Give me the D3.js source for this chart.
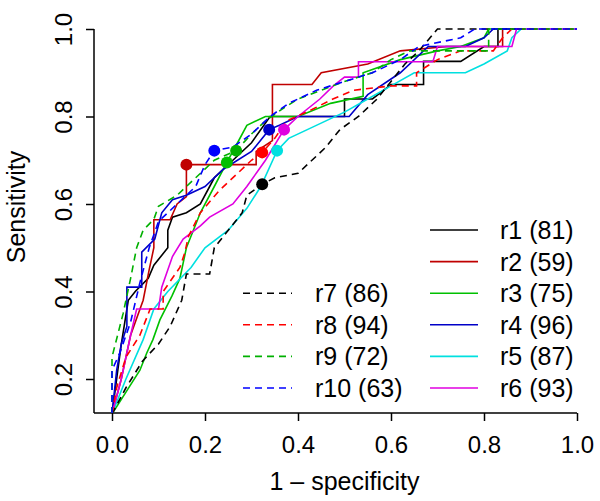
<!DOCTYPE html>
<html><head><meta charset="utf-8">
<script src="https://cdn.jsdelivr.net/npm/d3@7"></script>
<style>body{margin:0;background:#fff}svg{display:block;font-family:"Liberation Sans",Arial,sans-serif}</style>
</head><body>
<svg id="c" width="600" height="501"></svg>
<script>
const seriesNames = ["r1","r2","r3","r4","r5","r6","r7","r8","r9","r10"];
const seriesCounts = [81,59,75,96,87,93,86,94,72,63];
const seriesColors = ["#000000","#c00000","#00c000","#0000c8","#00e0e0","#e000e0","#000000","#ff0000","#00b000","#0000ff"];
const seriesDashed = [false,false,false,false,false,false,true,true,true,true];

const r1 = [[0,0.12],[0.01,0.2],[0.02,0.28],[0.035,0.38],[0.05,0.4],[0.078,0.43],[0.09,0.46],[0.12,0.5],[0.12,0.54],[0.13,0.57],[0.16,0.58],[0.19,0.6],[0.21,0.64],[0.22,0.66],[0.26,0.7],[0.3,0.74],[0.34,0.8],[0.5,0.8],[0.5,0.84],[0.56,0.84],[0.6,0.873],[0.67,0.873],[0.67,0.926],[0.75,0.926],[0.8,0.96],[0.83,0.96],[0.83,1.0],[1,1]];
const r2 = [[0,0.12],[0.02,0.2],[0.04,0.3],[0.067,0.38],[0.08,0.45],[0.09,0.5],[0.09,0.564],[0.125,0.564],[0.14,0.6],[0.16,0.617],[0.16,0.69],[0.31,0.69],[0.31,0.72],[0.345,0.745],[0.345,0.873],[0.43,0.873],[0.45,0.9],[0.55,0.92],[0.62,0.95],[0.72,0.96],[0.84,0.96],[0.84,1.0],[1,1]];
const r3 = [[0,0.12],[0.03,0.17],[0.06,0.22],[0.075,0.26],[0.088,0.29],[0.103,0.335],[0.129,0.39],[0.146,0.43],[0.16,0.5],[0.175,0.54],[0.19,0.58],[0.22,0.64],[0.247,0.695],[0.27,0.74],[0.29,0.78],[0.33,0.8],[0.4,0.8],[0.47,0.83],[0.54,0.846],[0.54,0.9],[0.62,0.93],[0.7,0.95],[0.75,0.96],[0.8,0.98],[0.81,1.0],[1,1]];
const r4 = [[0,0.12],[0.01,0.22],[0.02,0.28],[0.032,0.32],[0.032,0.41],[0.064,0.41],[0.064,0.49],[0.092,0.52],[0.107,0.58],[0.13,0.61],[0.16,0.62],[0.2,0.64],[0.24,0.68],[0.3,0.72],[0.338,0.77],[0.36,0.78],[0.4,0.8],[0.51,0.8],[0.55,0.85],[0.62,0.9],[0.68,0.96],[0.76,0.96],[0.8,0.98],[0.82,1.0],[1,1]];
const r5 = [[0,0.12],[0.03,0.2],[0.067,0.29],[0.09,0.36],[0.12,0.4],[0.17,0.455],[0.2,0.5],[0.25,0.54],[0.29,0.59],[0.32,0.64],[0.355,0.722],[0.38,0.75],[0.42,0.77],[0.46,0.79],[0.5,0.81],[0.55,0.84],[0.6,0.87],[0.65,0.9],[0.76,0.9],[0.8,0.92],[0.85,0.95],[0.86,0.98],[0.88,1.0],[1,1]];
const r6 = [[0,0.12],[0.02,0.2],[0.04,0.3],[0.053,0.36],[0.1,0.36],[0.107,0.41],[0.13,0.48],[0.153,0.52],[0.19,0.55],[0.21,0.57],[0.26,0.6],[0.29,0.64],[0.33,0.7],[0.37,0.77],[0.4,0.8],[0.447,0.84],[0.476,0.87],[0.5,0.89],[0.53,0.89],[0.53,0.925],[0.69,0.925],[0.7,0.96],[0.86,0.96],[0.87,1.0],[1,1]];
const r7 = [[0,0.12],[0.03,0.18],[0.065,0.24],[0.1,0.28],[0.125,0.32],[0.15,0.38],[0.16,0.44],[0.21,0.44],[0.22,0.5],[0.25,0.54],[0.28,0.58],[0.29,0.62],[0.323,0.645],[0.35,0.66],[0.4,0.67],[0.43,0.7],[0.46,0.73],[0.49,0.77],[0.53,0.8],[0.57,0.84],[0.6,0.88],[0.63,0.92],[0.66,0.95],[0.7,1.0],[1,1]];
const r8 = [[0,0.12],[0.01,0.18],[0.03,0.25],[0.06,0.3],[0.082,0.36],[0.11,0.36],[0.11,0.4],[0.146,0.455],[0.157,0.49],[0.164,0.525],[0.19,0.58],[0.23,0.63],[0.27,0.67],[0.3,0.7],[0.323,0.718],[0.35,0.75],[0.376,0.79],[0.43,0.816],[0.475,0.84],[0.52,0.86],[0.6,0.87],[0.655,0.87],[0.655,0.9],[0.7,0.93],[0.75,0.95],[0.82,0.95],[0.84,0.98],[0.86,1.0],[1,1]];
const r9 = [[0,0.12],[0,0.25],[0.024,0.35],[0.04,0.43],[0.053,0.5],[0.067,0.54],[0.09,0.565],[0.1,0.595],[0.14,0.62],[0.18,0.66],[0.22,0.7],[0.267,0.722],[0.3,0.76],[0.33,0.79],[0.37,0.82],[0.4,0.84],[0.45,0.86],[0.5,0.88],[0.56,0.9],[0.6,0.93],[0.64,0.95],[0.81,0.95],[0.81,1.0],[1,1]];
const r10 = [[0,0.12],[0,0.22],[0.017,0.26],[0.04,0.33],[0.06,0.42],[0.08,0.5],[0.1,0.56],[0.14,0.6],[0.18,0.64],[0.2,0.69],[0.22,0.722],[0.26,0.73],[0.3,0.76],[0.34,0.8],[0.38,0.83],[0.44,0.86],[0.5,0.88],[0.56,0.9],[0.62,0.93],[0.66,0.96],[0.75,0.98],[0.78,1.0],[1,1]];
const curves = [r1,r2,r3,r4,r5,r6,r7,r8,r9,r10];

// optimal points (index into series, fpr, tpr)
const markerSeries = [1,7,9,8,2,3,5,4,6];
const markerX = [0.16,0.323,0.22,0.267,0.247,0.338,0.37,0.355,0.323];
const markerY = [0.69,0.718,0.722,0.722,0.695,0.77,0.77,0.722,0.645];

const xTicks = [0,0.2,0.4,0.6,0.8,1.0];
const yTicks = [0.2,0.4,0.6,0.8,1.0];

const svg = d3.select("#c");
const x = d3.scaleLinear().domain([0,1]).range([112,577]);
const y = d3.scaleLinear().domain([0.2,1]).range([379,29]);
const yMin = y.invert(413), xMin = x.invert(94);

svg.append("defs").append("clipPath").attr("id","clip").append("rect")
  .attr("x",x(xMin)).attr("y",y(1)-2).attr("width",x(1.04)-x(xMin)).attr("height",y(yMin)-y(1)+2);

// axes
const xa = svg.append("g").attr("transform",`translate(0,${y(yMin)})`)
  .call(d3.axisBottom(x).tickValues(xTicks).tickFormat(d3.format(".1f")).tickSize(8).tickSizeOuter(0));
xa.select(".domain").remove();
xa.selectAll("line").attr("stroke","#000").attr("stroke-width",1.5);
xa.selectAll("text").attr("y",40).attr("dy",0).attr("font-size",24).attr("fill","#000");

const ya = svg.append("g").attr("transform",`translate(${x(xMin)},0)`)
  .call(d3.axisLeft(y).tickValues(yTicks).tickFormat(d3.format(".1f")).tickSize(8).tickSizeOuter(0));
ya.select(".domain").remove();
ya.selectAll("line").attr("stroke","#000").attr("stroke-width",1.5);
ya.selectAll("text").attr("x",0).attr("dy",0).attr("transform","translate(-22,0) rotate(-90)")
  .attr("text-anchor","middle").attr("font-size",24).attr("fill","#000");

svg.append("line").attr("x1",x(xMin)).attr("x2",x(1)).attr("y1",y(yMin)).attr("y2",y(yMin)).attr("stroke","#000").attr("stroke-width",1.5);
svg.append("line").attr("x1",x(xMin)).attr("x2",x(xMin)).attr("y1",y(1)).attr("y2",y(yMin)).attr("stroke","#000").attr("stroke-width",1.5);

svg.append("text").attr("x",(x(0)+x(1))/2).attr("y",490).attr("text-anchor","middle").attr("font-size",25).text("1 \u2013 specificity");
svg.append("text").attr("transform",`translate(25,207) rotate(-90)`).attr("text-anchor","middle").attr("font-size",25).text("Sensitivity");

// curves
const line = d3.line().x(d=>x(d[0])).y(d=>y(d[1]));
const g = svg.append("g").attr("clip-path","url(#clip)");
curves.forEach((c,i)=>{
  g.append("path").attr("d",line(c)).attr("fill","none").attr("stroke",seriesColors[i])
    .attr("stroke-width",1.6).attr("stroke-dasharray",seriesDashed[i]?"7,5":null);
});
markerSeries.forEach((s,i)=>{
  g.append("circle").attr("cx",x(markerX[i])).attr("cy",y(markerY[i])).attr("r",6).attr("fill",seriesColors[s]);
});

// legends
const rowY = [230,261.6,293.2,324.8,356.4,388];
const leg = svg.append("g");
[0,1,2,3,4,5].forEach((s,k)=>{
  leg.append("line").attr("x1",430).attr("x2",478).attr("y1",rowY[k]).attr("y2",rowY[k]).attr("stroke",seriesColors[s]).attr("stroke-width",1.6);
  leg.append("text").attr("x",500).attr("y",rowY[k]+9).attr("font-size",25).text(`${seriesNames[s]} (${seriesCounts[s]})`);
});
[6,7,8,9].forEach((s,k)=>{
  const ry = rowY[k+2];
  leg.append("line").attr("x1",243).attr("x2",292).attr("y1",ry).attr("y2",ry).attr("stroke",seriesColors[s]).attr("stroke-width",1.6).attr("stroke-dasharray","7,5");
  leg.append("text").attr("x",315).attr("y",ry+9).attr("font-size",25).text(`${seriesNames[s]} (${seriesCounts[s]})`);
});
</script>
</body></html>
